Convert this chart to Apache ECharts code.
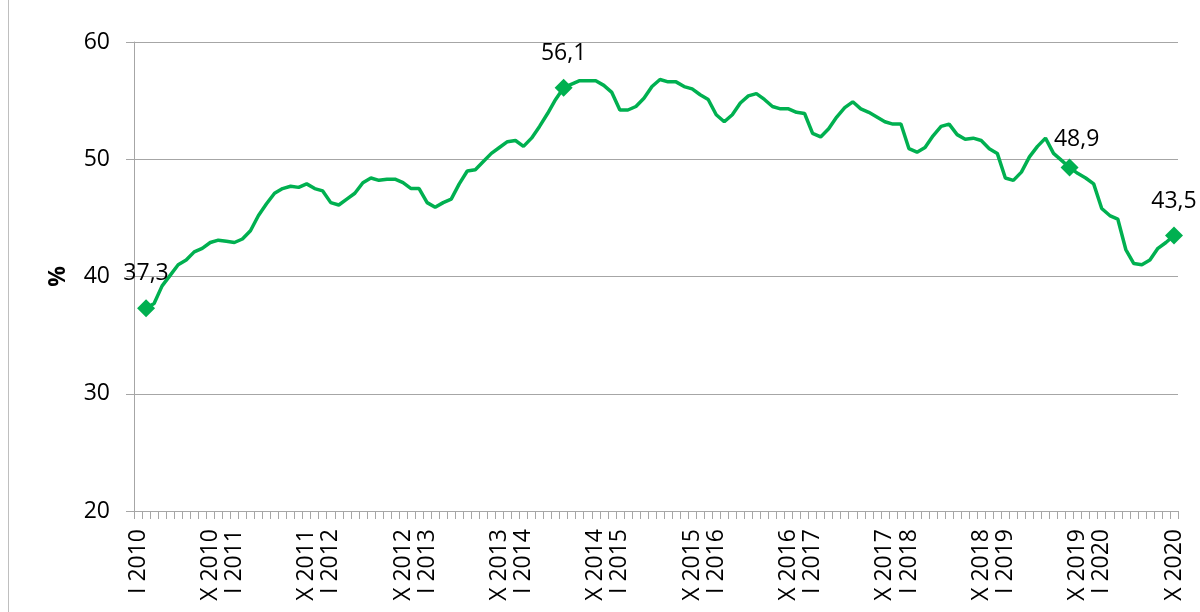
<!DOCTYPE html>
<html>
<head>
<meta charset="utf-8">
<script src="https://cdn.jsdelivr.net/npm/echarts@6/dist/echarts.min.js"></script>
<style>
  html, body { margin: 0; padding: 0; background: #ffffff; }
  #chart { width: 1200px; height: 612px; }
</style>
</head>
<body>
<div id="chart"></div>
<script>
// ---- data ----
const monthNames = ['I','II','III','IV','V','VI','VII','VIII','IX','X','XI','XII'];
const years = [2010, 2011, 2012, 2013, 2014, 2015, 2016, 2017, 2018, 2019, 2020];
const lastMonthOf2020 = 10; // X 2020

const categories = [];
years.forEach(function (y) {
  const n = (y === 2020) ? lastMonthOf2020 : 12;
  for (let m = 0; m < n; m++) categories.push(monthNames[m] + ' ' + y);
});

const tickLabels = ['I 2010','X 2010','I 2011','X 2011','I 2012','X 2012','I 2013','X 2013',
  'I 2014','X 2014','I 2015','X 2015','I 2016','X 2016','I 2017','X 2017','I 2018','X 2018',
  'I 2019','X 2019','I 2020','X 2020'];

const values = [
  null, 37.3, 37.7, 39.2, 40.1, 41.0, 41.4, 42.1, 42.4, 42.9, 43.1, 43.0,
  42.9, 43.2, 43.9, 45.2, 46.2, 47.1, 47.5, 47.7, 47.6, 47.9, 47.5, 47.3,
  46.3, 46.1, 46.6, 47.1, 48.0, 48.4, 48.2, 48.3, 48.3, 48.0, 47.5, 47.5,
  46.3, 45.9, 46.3, 46.6, 47.9, 49.0, 49.1, 49.8, 50.5, 51.0, 51.5, 51.6,
  51.1, 51.8, 52.8, 53.9, 55.1, 56.1, 56.4, 56.7, 56.7, 56.7, 56.3, 55.7,
  54.2, 54.2, 54.5, 55.2, 56.2, 56.8, 56.6, 56.6, 56.2, 56.0, 55.5, 55.1,
  53.8, 53.2, 53.8, 54.8, 55.4, 55.6, 55.1, 54.5, 54.3, 54.3, 54.0, 53.9,
  52.2, 51.9, 52.6, 53.6, 54.4, 54.9, 54.3, 54.0, 53.6, 53.2, 53.0, 53.0,
  50.9, 50.6, 51.0, 52.0, 52.8, 53.0, 52.1, 51.7, 51.8, 51.6, 50.9, 50.5,
  48.4, 48.2, 48.9, 50.2, 51.1, 51.8, 50.5, 49.9, 49.3, 48.8, 48.4, 47.9,
  45.8, 45.2, 44.9, 42.3, 41.1, 41.0, 41.4, 42.4, 42.9, 43.5
];

const highlightIdx = [1, 53, 116, 129];
const highlightText = ['37,3', '56,1', '48,9', '43,5'];

// ---- chart ----
const FONT = 'Open Sans';
const GREEN = '#00b050';
const GRAY = '#a6a6a6';

const seriesData = values.map(function (v, i) {
  const h = highlightIdx.indexOf(i);
  if (h < 0) return v;
  const item = {
    value: v,
    symbol: 'diamond',
    symbolSize: 18,
    label: {
      show: true,
      position: 'top',
      distance: 14,
      formatter: highlightText[h],
      color: '#000',
      fontFamily: FONT,
      fontSize: 23
    }
  };
  if (i === 116) item.label.offset = [7, 6];
  return item;
});

const chart = echarts.init(document.getElementById('chart'), null, { renderer: 'canvas' });
chart.setOption({
  animation: false,
  backgroundColor: '#ffffff',
  textStyle: { fontFamily: FONT },
  grid: { left: 134, right: 22, top: 42, bottom: 101, containLabel: false },
  graphic: [{
    type: 'line',
    shape: { x1: 8.5, y1: 0, x2: 8.5, y2: 612 },
    style: { stroke: '#bfbfbf', lineWidth: 1 },
    silent: true
  }],
  xAxis: {
    type: 'category',
    data: categories,
    boundaryGap: true,
    axisLine: { show: true, lineStyle: { color: GRAY, width: 1 } },
    axisTick: { show: true, interval: 0, length: 8, inside: false, lineStyle: { color: GRAY } },
    axisLabel: {
      interval: function (idx, val) { return tickLabels.indexOf(val) >= 0; },
      rotate: 90,
      margin: 18,
      color: '#000',
      fontFamily: FONT,
      fontSize: 23
    },
    splitLine: { show: false }
  },
  yAxis: {
    type: 'value',
    min: 20,
    max: 60,
    interval: 10,
    name: '%',
    nameLocation: 'middle',
    nameGap: 64,
    nameRotate: 90,
    nameTextStyle: { color: '#000', fontFamily: FONT, fontSize: 23, fontWeight: 'bold' },
    axisLine: { show: true, lineStyle: { color: GRAY, width: 1 } },
    axisTick: { show: true, length: 8, inside: false, lineStyle: { color: GRAY } },
    axisLabel: { margin: 24, color: '#000', fontFamily: FONT, fontSize: 23 },
    splitLine: { show: true, lineStyle: { color: GRAY, width: 1 } }
  },
  series: [{
    type: 'line',
    data: seriesData,
    symbol: 'none',
    showSymbol: true,
    showAllSymbol: true,
    connectNulls: false,
    lineStyle: { color: GREEN, width: 3.5 },
    itemStyle: { color: GREEN },
    z: 3
  }]
});
</script>
</body>
</html>
